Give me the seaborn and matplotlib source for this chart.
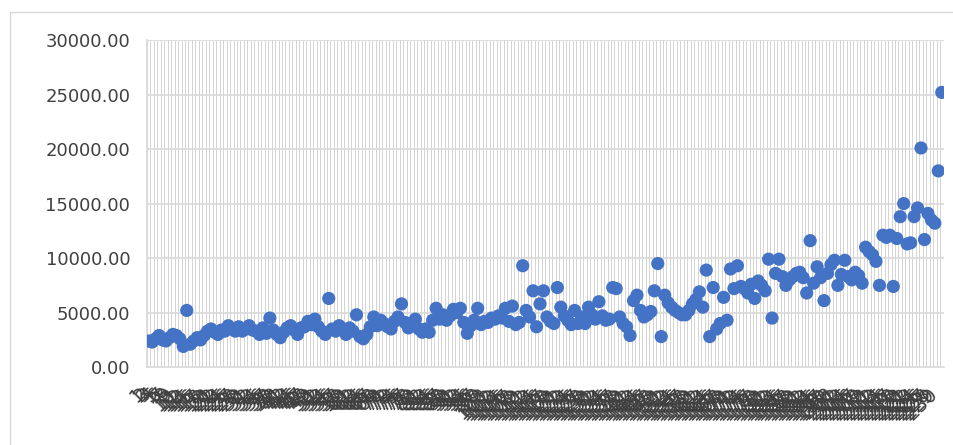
import matplotlib
matplotlib.use("Agg")
import matplotlib.pyplot as plt
import seaborn as sns
import pandas as pd
import numpy as np
from matplotlib.lines import Line2D

# Per-category values, in category order
values = [
    2400, 2300, 2600, 2900, 2500, 2400, 2700, 3000, 2900, 2600,
    1900, 5200, 2100, 2400, 2700, 2500, 2900, 3300, 3500, 3200,
    3000, 3400, 3300, 3800, 3500, 3300, 3700, 3300, 3500, 3800,
    3400, 3300, 3000, 3600, 3100, 4500, 3400, 3000, 2700, 3200,
    3600, 3800, 3400, 3000, 3600, 3700, 4200, 3900, 4400, 3700,
    3300, 3000, 6300, 3500, 3300, 3800, 3500, 3000, 3600, 3300,
    4800, 2800, 2600, 3000, 3700, 4600, 3800, 4300, 4000, 3700,
    3500, 4200, 4600, 5800, 4100, 3600, 4000, 4400, 3500, 3200,
    3500, 3200, 4300, 5400, 4400, 4800, 4300, 4700, 5300, 5000,
    5400, 4100, 3100, 3800, 4300, 5400, 3900, 4200, 4100, 4500,
    4400, 4700, 4500, 5400, 4200, 5600, 3900, 4100, 9300, 5200,
    4600, 7000, 3700, 5800, 7000, 4600, 4200, 4000, 7300, 5500,
    4700, 4300, 3900, 5200, 4000, 4600, 4000, 5500, 4800, 4400,
    6000, 4700, 4300, 4400, 7300, 7200, 4600, 4000, 3700, 2900,
    6100, 6600, 5200, 4600, 4800, 5100, 7000, 9500, 2800, 6600,
    5900, 5500, 5200, 5000, 4800, 4800, 5200, 5800, 6200, 6900,
    5500, 8900, 2800, 7300, 3500, 4000, 6400, 4300, 9000, 7200,
    9300, 7400, 7200, 6800, 7600, 6300, 7900, 7500, 7000, 9900,
    4500, 8600, 9900, 8300, 7500, 8000, 8300, 8600, 8700, 8200,
    6800, 11600, 7700, 9200, 8200, 6100, 8600, 9400, 9800, 7500,
    8500, 9800, 8300, 8000, 8700, 8400, 7700, 11000, 10600, 10300,
    9700, 7500, 12100, 11900, 12100, 7400, 11800, 13800, 15000, 11300,
    11400, 13800, 14600, 20100, 11700, 14100, 13500, 13200, 18000, 25200,
]
categories = [str(i + 1) for i in range(len(values))]
y_ticks = [0, 5000, 10000, 15000, 20000, 25000, 30000]

df = pd.DataFrame({"category": categories, "value": values})
df["pos"] = np.arange(len(df))

sns.set_theme(style="white")
plt.rcParams["font.family"] = ["DejaVu Sans"]

fig = plt.figure(figsize=(9.54, 4.45), dpi=100)
ax = fig.add_axes([0.154, 0.175, 0.835, 0.735])

sns.scatterplot(data=df, x="pos", y="value", ax=ax, s=90, color="#4472C4",
                edgecolor="none", linewidth=0, zorder=3, legend=False)

n = len(values)
ax.set_xlim(-0.5, n - 0.5)
ax.set_ylim(0, 30000)

# category boundary gridlines
for b in np.arange(-0.5, n, 1.0):
    ax.axvline(b, color="#d4d4d4", lw=0.7, zorder=1)
for t in y_ticks[1:]:
    ax.axhline(t, color="#d9d9d9", lw=1.2, zorder=2)

ax.set_yticks(y_ticks)
ax.set_yticklabels([f"{t:.2f}" for t in y_ticks], fontsize=13, color="#404040")
ax.set_xticks(df["pos"])
ax.set_xticklabels(categories, rotation=45, ha="right", va="top",
                   rotation_mode="default", fontsize=14, color="#404040")
ax.tick_params(axis="both", length=0)
ax.tick_params(axis="x", pad=12)
ax.tick_params(axis="y", pad=12)
ax.set_xlabel("")
ax.set_ylabel("")

for side in ["top", "right"]:
    ax.spines[side].set_visible(False)
for side in ["left", "bottom"]:
    ax.spines[side].set_color("#d9d9d9")
    ax.spines[side].set_linewidth(1.2)

# chart area border
fig.add_artist(Line2D([0.0105, 0.0105], [0.0, 0.973], transform=fig.transFigure,
                      color="#d9d9d9", lw=1))
fig.add_artist(Line2D([0.0105, 1.0], [0.973, 0.973], transform=fig.transFigure,
                      color="#d9d9d9", lw=1))

fig.savefig("out.png", dpi=100)
